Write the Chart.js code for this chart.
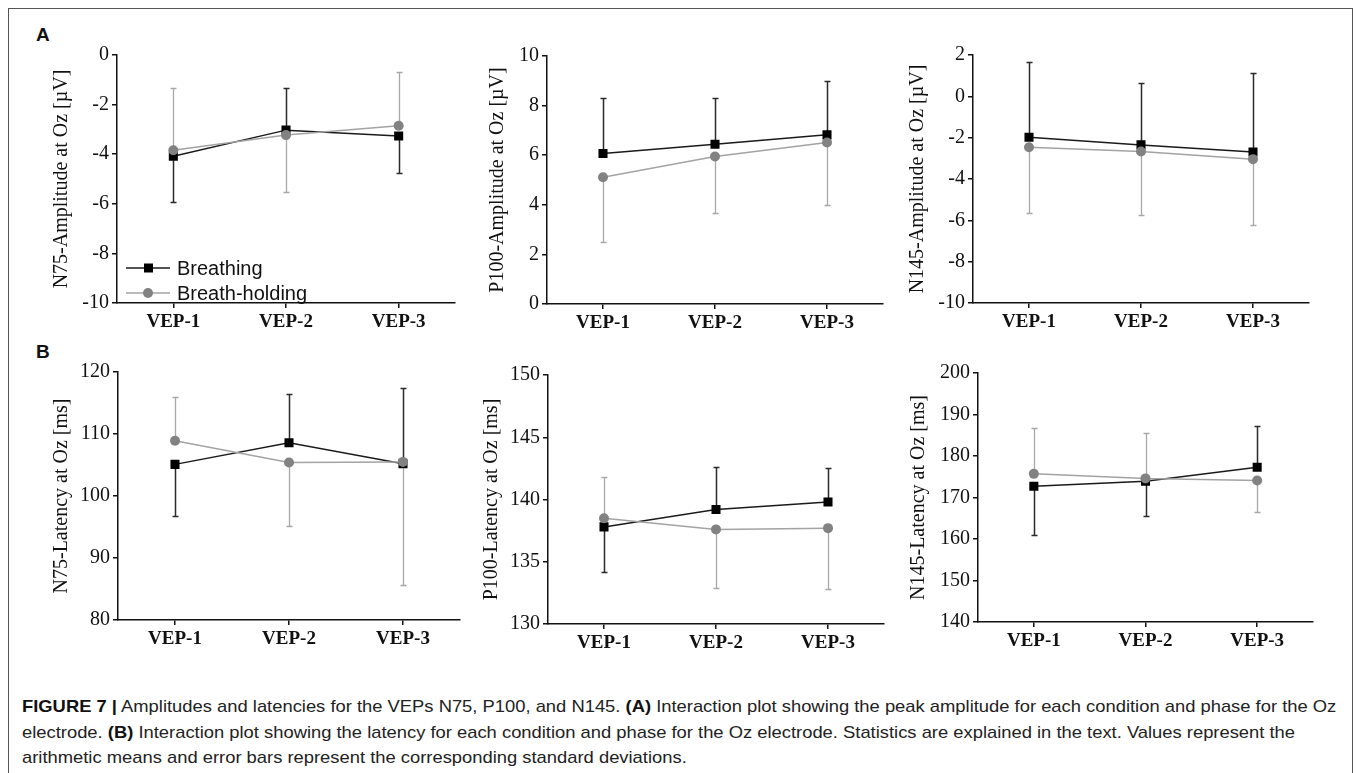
<!DOCTYPE html>
<html>
<head>
<meta charset="utf-8">
<script src="https://cdn.jsdelivr.net/npm/chart.js@4.4.0/dist/chart.umd.min.js"></script>
<style>
  body { margin: 0; background: #fff; width: 1357px; height: 773px; overflow: hidden; position: relative; font-family: "Liberation Sans", Arial, sans-serif; }
  #frame { position: absolute; left: 8px; top: 8px; width: 1343px; height: 820px; border: 1.5px solid #555; }
  canvas { position: absolute; }
  .panel { position: absolute; font: bold 19px "Liberation Sans", Arial, sans-serif; color: #111; }
  #caption { position: absolute; left: 22px; top: 694px; font-size: 17px; line-height: 25.5px; color: #222; white-space: nowrap; transform-origin: 0 0; }
  #caption b { color: #111; }
</style>
</head>
<body>
<div id="frame"></div>
<div class="panel" style="left:36px;top:24px">A</div>
<div class="panel" style="left:36px;top:341px">B</div>
<canvas id="c1"></canvas>
<canvas id="c2"></canvas>
<canvas id="c3"></canvas>
<canvas id="c4"></canvas>
<canvas id="c5"></canvas>
<canvas id="c6"></canvas>
<div id="caption">
  <div id="line1"><b>FIGURE 7 |</b> Amplitudes and latencies for the VEPs N75, P100, and N145. <b>(A)</b> Interaction plot showing the peak amplitude for each condition and phase for the Oz</div>
  <div>electrode. <b>(B)</b> Interaction plot showing the latency for each condition and phase for the Oz electrode. Statistics are explained in the text. Values represent the</div>
  <div>arithmetic means and error bars represent the corresponding standard deviations.</div>
</div>
<script>
const phases = ["VEP-1", "VEP-2", "VEP-3"];
const seriesNames = ["Breathing", "Breath-holding"];

// y axis: min, max, step
const n75AmpTicks = [-10, 0, 2];
const p100AmpTicks = [0, 10, 2];
const n145AmpTicks = [-10, 2, 2];
const n75LatTicks = [80, 120, 10];
const p100LatTicks = [130, 150, 5];
const n145LatTicks = [140, 200, 10];

// means, and the end of each (one sided) SD bar
const n75AmpBreathing = [-4.08, -3.03, -3.27];
const n75AmpBreathingSd = [-5.92, -1.35, -4.75];
const n75AmpHolding = [-3.84, -3.23, -2.85];
const n75AmpHoldingSd = [-1.32, -5.52, -0.7];

const p100AmpBreathing = [6.07, 6.44, 6.82];
const p100AmpBreathingSd = [8.32, 8.32, 9.0];
const p100AmpHolding = [5.11, 5.95, 6.51];
const p100AmpHoldingSd = [2.52, 3.66, 4.0];

const n145AmpBreathing = [-1.98, -2.35, -2.69];
const n145AmpBreathingSd = [1.66, 0.66, 1.11];
const n145AmpHolding = [-2.46, -2.67, -3.04];
const n145AmpHoldingSd = [-5.65, -5.73, -6.22];

const n75LatBreathing = [105.1, 108.6, 105.2];
const n75LatBreathingSd = [96.8, 116.5, 117.4];
const n75LatHolding = [108.9, 105.4, 105.5];
const n75LatHoldingSd = [115.9, 95.1, 85.7];

const p100LatBreathing = [137.8, 139.2, 139.8];
const p100LatBreathingSd = [134.15, 142.64, 142.56];
const p100LatHolding = [138.5, 137.6, 137.7];
const p100LatHoldingSd = [141.83, 132.92, 132.78];

const n145LatBreathing = [172.7, 173.9, 177.3];
const n145LatBreathingSd = [161.0, 165.6, 187.15];
const n145LatHolding = [175.7, 174.6, 174.1];
const n145LatHoldingSd = [186.7, 185.5, 166.6];

const BLACK = "#1a1a1a";
const GREY_LINE = "#a3a3a3";
const GREY_DOT = "#828282";

// error bars from the mean to the end value, drawn under the markers
const errorBars = {
  id: "errorBars",
  beforeDatasetsDraw(chart) {
    const ctx = chart.ctx;
    const xs = chart.scales.x, ys = chart.scales.y;
    chart.data.datasets.forEach((ds) => {
      ctx.save();
      ctx.strokeStyle = ds.sdColor;
      ctx.lineWidth = ds.sdWidth;
      ds.sd.forEach((end, i) => {
        const px = Math.round(xs.getPixelForValue(i)) + 0.5;
        const y0 = ys.getPixelForValue(ds.data[i]);
        const y1 = Math.round(ys.getPixelForValue(end)) + 0.5;
        ctx.beginPath();
        ctx.moveTo(px, y0);
        ctx.lineTo(px, y1);
        ctx.moveTo(px - 3, y1);
        ctx.lineTo(px + 3, y1);
        ctx.stroke();
      });
      ctx.restore();
    });
  },
};

// legend drawn inside the first plot
const legendBox = {
  id: "legendBox",
  afterDraw(chart, args, opts) {
    if (!opts.show) return;
    const ctx = chart.ctx;
    const a = chart.chartArea;
    const rows = [
      { name: seriesNames[0], line: BLACK, fill: "#000", square: true, y: a.bottom - 35 },
      { name: seriesNames[1], line: GREY_LINE, fill: GREY_DOT, square: false, y: a.bottom - 10 },
    ];
    ctx.save();
    ctx.font = '20px "Liberation Sans", Arial, sans-serif';
    ctx.textBaseline = "middle";
    rows.forEach((r) => {
      ctx.strokeStyle = r.line;
      ctx.lineWidth = 1.5;
      ctx.beginPath();
      ctx.moveTo(a.left + 9, r.y);
      ctx.lineTo(a.left + 53, r.y);
      ctx.stroke();
      ctx.fillStyle = r.fill;
      ctx.beginPath();
      if (r.square) ctx.rect(a.left + 27, r.y - 4.5, 9, 9);
      else ctx.arc(a.left + 31, r.y, 5, 0, Math.PI * 2);
      ctx.fill();
      ctx.fillStyle = "#111";
      ctx.fillText(r.name, a.left + 60, r.y + 1);
    });
    ctx.restore();
  },
};

// layout: title centre x, y axis x, top, bottom, right of plot (page px)
const panels = [
  { id: "c1", title: "N75-Amplitude at Oz [µV]", ticks: n75AmpTicks, b: n75AmpBreathing, bSd: n75AmpBreathingSd, h: n75AmpHolding, hSd: n75AmpHoldingSd, box: [62, 117, 55, 303, 455], legend: true },
  { id: "c2", title: "P100-Amplitude at Oz [µV]", ticks: p100AmpTicks, b: p100AmpBreathing, bSd: p100AmpBreathingSd, h: p100AmpHolding, hSd: p100AmpHoldingSd, box: [498, 547, 56, 304, 883] },
  { id: "c3", title: "N145-Amplitude at Oz [µV]", ticks: n145AmpTicks, b: n145AmpBreathing, bSd: n145AmpBreathingSd, h: n145AmpHolding, hSd: n145AmpHoldingSd, box: [918, 973, 55, 303, 1309] },
  { id: "c4", title: "N75-Latency at Oz [ms]", ticks: n75LatTicks, b: n75LatBreathing, bSd: n75LatBreathingSd, h: n75LatHolding, hSd: n75LatHoldingSd, box: [62, 118, 372, 620, 460] },
  { id: "c5", title: "P100-Latency at Oz [ms]", ticks: p100LatTicks, b: p100LatBreathing, bSd: p100LatBreathingSd, h: p100LatHolding, hSd: p100LatHoldingSd, box: [492, 548, 375, 624, 884] },
  { id: "c6", title: "N145-Latency at Oz [ms]", ticks: n145LatTicks, b: n145LatBreathing, bSd: n145LatBreathingSd, h: n145LatHolding, hSd: n145LatHoldingSd, box: [919, 978, 373, 622, 1313] },
];

const PAD_TOP = 15, PAD_RIGHT = 10, X_AXIS_H = 36;

function makeChart(p) {
  const [titleX, axisX, top, bottom, right] = p.box;
  const left = titleX - 12;
  const canvas = document.getElementById(p.id);
  canvas.width = right + PAD_RIGHT - left;
  canvas.height = PAD_TOP + (bottom - top) + X_AXIS_H;
  canvas.style.left = left + "px";
  canvas.style.top = top - PAD_TOP + "px";
  const yWidth = axisX - left;

  new Chart(canvas, {
    type: "line",
    data: {
      labels: phases,
      datasets: [
        {
          label: seriesNames[0],
          data: p.b,
          sd: p.bSd,
          sdColor: "#2a2a2a",
          sdWidth: 1.5,
          borderColor: BLACK,
          borderWidth: 1.5,
          pointStyle: "rect",
          pointRadius: 6.4,
          pointBackgroundColor: "#000",
          pointBorderColor: "#000",
          pointBorderWidth: 0,
          tension: 0,
          order: 2,
        },
        {
          label: seriesNames[1],
          data: p.h,
          sd: p.hSd,
          sdColor: "#a8a8a8",
          sdWidth: 1.3,
          borderColor: GREY_LINE,
          borderWidth: 1.5,
          pointStyle: "circle",
          pointRadius: 5,
          pointBackgroundColor: GREY_DOT,
          pointBorderColor: GREY_DOT,
          pointBorderWidth: 0,
          tension: 0,
          order: 1,
        },
      ],
    },
    options: {
      responsive: false,
      animation: false,
      devicePixelRatio: 1,
      layout: { padding: { left: 0, top: PAD_TOP, right: PAD_RIGHT, bottom: 0 } },
      plugins: {
        legend: { display: false },
        tooltip: { enabled: false },
        legendBox: { show: !!p.legend },
      },
      scales: {
        x: {
          type: "category",
          offset: true,
          grid: { drawOnChartArea: false, drawTicks: true, tickLength: 5, color: "#111", lineWidth: 1.5 },
          border: { display: true, color: "#111", width: 1.5 },
          ticks: { color: "#111", padding: 3, font: { family: "Liberation Serif", size: 19, weight: "bold" } },
          afterFit(scale) { scale.height = X_AXIS_H; },
        },
        y: {
          min: p.ticks[0],
          max: p.ticks[1],
          grid: { drawOnChartArea: false, drawTicks: true, tickLength: 5, color: "#111", lineWidth: 1.5 },
          border: { display: true, color: "#111", width: 1.5 },
          ticks: { stepSize: p.ticks[2], color: "#111", padding: 3, font: { family: "Liberation Serif", size: 20 } },
          title: { display: true, text: p.title, color: "#111", padding: 0, font: { family: "Liberation Serif", size: 20 } },
          afterFit(scale) { scale.width = yWidth; },
        },
      },
    },
    plugins: [errorBars, legendBox],
  });
}

panels.forEach(makeChart);

// stretch caption so the first line spans the same width as the original
const cap = document.getElementById("caption");
const w = document.getElementById("line1").scrollWidth;
cap.style.transform = "scaleX(" + (1314 / w) + ")";
</script>
</body>
</html>
